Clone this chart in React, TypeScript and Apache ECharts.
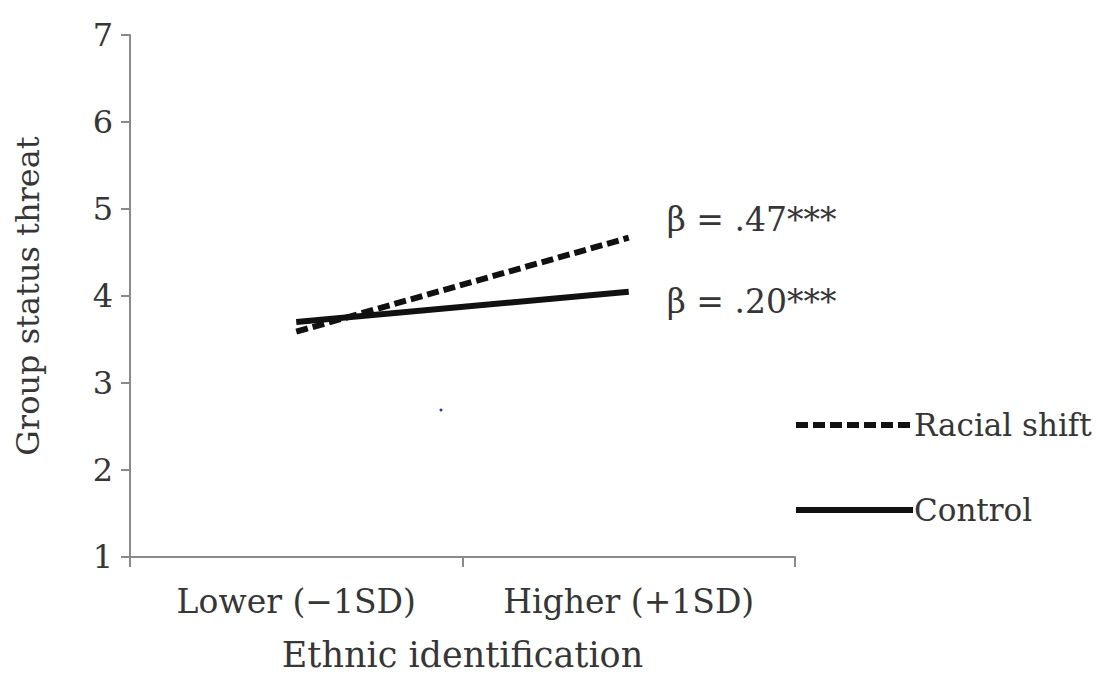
import React, { useEffect, useRef } from "react";
import * as echarts from "echarts";

const categories = ["Lower (\u22121SD)", "Higher (+1SD)"];
const racialShift = [3.59, 4.67];
const control = [3.7, 4.05];
const yTicks = [1, 2, 3, 4, 5, 6, 7];
const betaLabels = ["\u03b2 = .47***", "\u03b2 = .20***"];
const seriesNames = ["Racial shift", "Control"];

const FONT = "'DejaVu Serif', 'Liberation Serif', serif";
const TXT = "#363636";
const AX = "#8a8a8a";
const LINE = "#111111";
const DASH = [12, 5];

export default function App() {
  const ref = useRef<HTMLDivElement>(null);
  useEffect(() => {
    if (!ref.current) return;
    const chart = echarts.init(ref.current, undefined, { renderer: "svg" });
    chart.setOption({
      animation: false,
      backgroundColor: "#ffffff",
      grid: { left: 130, right: 304, top: 35, bottom: 133, containLabel: false, outerBoundsMode: "none" },
      legend: {
        orient: "vertical",
        left: 788,
        top: 404,
        itemWidth: 117,
        itemHeight: 14,
        itemGap: 53,
        textStyle: { fontFamily: FONT, fontSize: 31, lineHeight: 32, color: TXT, padding: [0, 0, 0, -4] },
        data: [
          { name: seriesNames[0], itemStyle: { opacity: 0 }, lineStyle: { width: 6, type: DASH, color: LINE } },
          { name: seriesNames[1], itemStyle: { opacity: 0 }, lineStyle: { width: 6, type: "solid", color: LINE } },
        ],
      },
      xAxis: {
        type: "category",
        data: categories,
        boundaryGap: true,
        name: "Ethnic identification",
        nameLocation: "middle",
        nameGap: 80,
        nameTextStyle: { fontFamily: FONT, fontSize: 35, color: TXT },
        axisLine: { show: true, lineStyle: { color: AX, width: 2 } },
        axisTick: { show: true, inside: false, length: 10, interval: 0, lineStyle: { color: AX, width: 2 } },
        axisLabel: { fontFamily: FONT, fontSize: 33, color: TXT, margin: 28, interval: 0, hideOverlap: false },
        splitLine: { show: false },
      },
      yAxis: {
        type: "value",
        min: yTicks[0],
        max: yTicks[yTicks.length - 1],
        interval: 1,
        name: "Group status threat",
        nameLocation: "middle",
        nameGap: 86,
        nameRotate: 90,
        nameTextStyle: { fontFamily: FONT, fontSize: 32, color: TXT },
        axisLine: { show: true, lineStyle: { color: AX, width: 2 } },
        axisTick: { show: true, inside: false, length: 9, lineStyle: { color: AX, width: 2 } },
        axisLabel: { fontFamily: FONT, fontSize: 32, color: TXT, margin: 17 },
        splitLine: { show: false },
      },
      series: [
        {
          name: seriesNames[0],
          type: "line",
          data: racialShift,
          symbol: "none",
          color: LINE,
          lineStyle: { color: LINE, width: 6, type: DASH },
          endLabel: {
            show: true,
            formatter: betaLabels[0],
            fontFamily: FONT,
            fontSize: 33,
            color: TXT,
            distance: 38,
            offset: [0, -18],
          },
          z: 3,
        },
        {
          name: seriesNames[1],
          type: "line",
          data: control,
          symbol: "none",
          color: LINE,
          lineStyle: { color: LINE, width: 6, type: "solid" },
          endLabel: {
            show: true,
            formatter: betaLabels[1],
            fontFamily: FONT,
            fontSize: 33,
            color: TXT,
            distance: 38,
            offset: [0, 10],
          },
          z: 2,
        },
      ],
      graphic: [
        { type: "circle", shape: { cx: 441, cy: 410, r: 1.5 }, style: { fill: "#2233cc" } },
      ],
    });
    return () => chart.dispose();
  }, []);
  return <div ref={ref} style={{ width: 1099, height: 690, position: "absolute", left: 0, top: 0 }} />;
}
